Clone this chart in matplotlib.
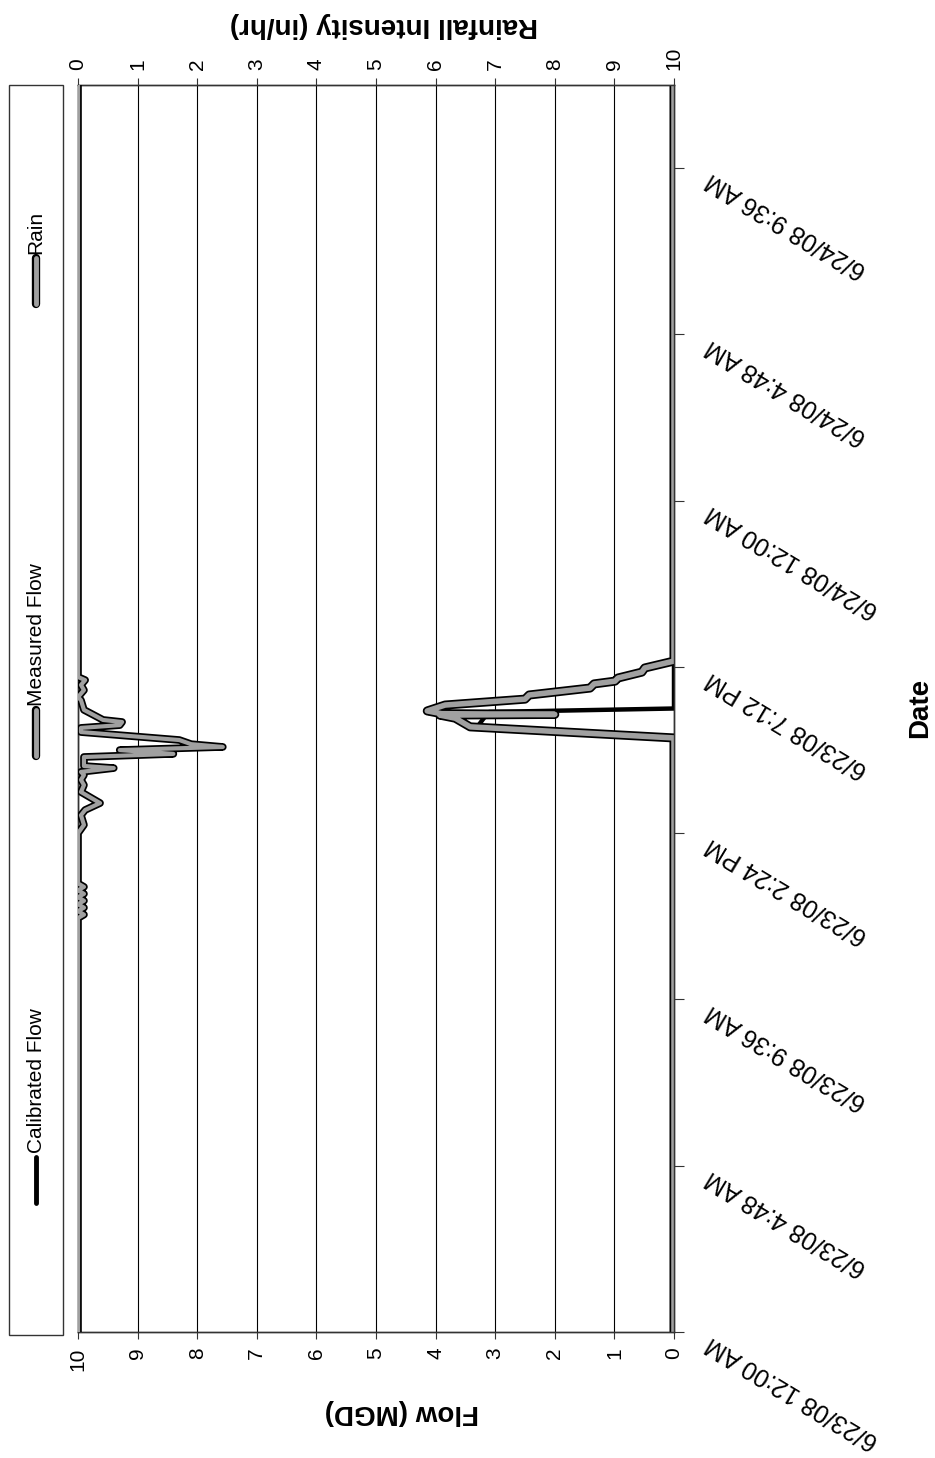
import matplotlib.pyplot as plt
import matplotlib.patheffects as pe
from matplotlib.lines import Line2D
from matplotlib.patches import Rectangle

plt.rcParams['font.family'] = ['Liberation Sans', 'DejaVu Sans']

# time in hours after 6/23/08 12:00 AM
calibrated_t = [0, 17.15, 17.47, 17.70, 17.90, 18.00, 36]
calibrated_flow = [0, 0, 3.3, 3.2, 3.1, 0, 0]

measured_t = [0, 17.15, 17.47, 17.61, 17.72, 17.81, 17.83, 17.85, 17.93, 18.10,
              18.27, 18.39, 18.59, 18.71, 18.79, 18.88, 19.05, 19.17, 19.37, 36]
measured_flow = [0, 0, 3.42, 3.56, 3.67, 3.93, 2.0, 3.9, 4.14, 3.84,
                 2.50, 2.43, 1.41, 1.34, 0.99, 0.94, 0.54, 0.49, 0, 0]

rain_t = [0, 11.95, 12.05, 12.15, 12.25, 12.35, 12.45, 12.55, 12.65, 12.75, 12.85, 12.95,
          14.40, 14.64, 14.92, 15.07, 15.27, 15.44, 15.59, 15.79, 15.94, 16.08, 16.17,
          16.28, 16.34, 16.60, 16.69, 16.80, 16.89, 16.97, 17.09, 17.32, 17.44, 17.52,
          17.61, 17.67, 17.87, 17.96, 18.24, 18.33, 18.53, 18.68, 18.82, 18.91, 36]
rain = [0, 0, 0.1, 0, 0.1, 0, 0.1, 0, 0.1, 0, 0.1, 0,
        0, 0.1, 0.05, 0.12, 0.37, 0.2, 0.05, 0.1, 0.05, 0.1, 0.05,
        0.6, 0.1, 0.1, 1.6, 0.7, 2.43, 1.9, 1.7, 0.05, 0.05, 0.7,
        0.74, 0.42, 0.2, 0.1, 0.05, 0, 0.1, 0.05, 0.12, 0, 0]

flow_ticks = [0, 1, 2, 3, 4, 5, 6, 7, 8, 9, 10]
rain_ticks = [0, 1, 2, 3, 4, 5, 6, 7, 8, 9, 10]
date_ticks = [0, 4.8, 9.6, 14.4, 19.2, 24.0, 28.8, 33.6]
date_labels = ["6/23/08 12:00 AM", "6/23/08 4:48 AM", "6/23/08 9:36 AM", "6/23/08 2:24 PM",
               "6/23/08 7:12 PM", "6/24/08 12:00 AM", "6/24/08 4:48 AM", "6/24/08 9:36 AM"]

W, H = 935, 1458
fig = plt.figure(figsize=(W / 100, H / 100), dpi=100)
ax = fig.add_axes([78 / W, 1 - 1332 / H, (674 - 78) / W, (1332 - 85) / H])

frame_c = '#333333'
for s in ax.spines.values():
    s.set_color(frame_c)
    s.set_linewidth(1)

ax.set_xlim(10, 0)
ax.set_ylim(0, 36)
ax.set_xticks(flow_ticks)
ax.set_xticklabels([str(v) for v in flow_ticks], rotation=90, fontsize=15)
ax.grid(axis='x', color='black', linewidth=0.8)
ax.grid(axis='y', visible=False)
ax.tick_params(axis='x', direction='out', length=5, pad=6, color=frame_c)

ax.yaxis.tick_right()
ax.set_yticks(date_ticks)
ax.set_yticklabels(date_labels, rotation=149, rotation_mode='anchor',
                   ha='right', va='bottom', fontsize=18)
ax.tick_params(axis='y', direction='out', length=7, pad=22, color=frame_c)

ax.plot(calibrated_flow, calibrated_t, color='black', linewidth=3.2, zorder=3)
ax.plot(measured_flow, measured_t, color='#a0a0a0', linewidth=4,
        path_effects=[pe.Stroke(linewidth=6.5, foreground='black'), pe.Normal()], zorder=4)

ax2 = ax.twiny()
ax2.set_xlim(0, 10)
ax2.set_xticks(rain_ticks)
ax2.set_xticklabels([str(v) for v in rain_ticks], rotation=90, fontsize=15)
ax2.tick_params(axis='x', direction='out', length=5, pad=6, color=frame_c)
for s in ax2.spines.values():
    s.set_color(frame_c)
    s.set_linewidth(1)
ax2.plot(rain, rain_t, color='#a0a0a0', linewidth=3.0,
         path_effects=[pe.Stroke(linewidth=5.5, foreground='black'), pe.Normal()], zorder=4)

# axis titles
fig.text(402 / W, 1 - 1412 / H, "Flow (MGD)", rotation=180, ha='center', va='center',
         fontsize=20, fontweight='bold')
fig.text(384 / W, 1 - 25 / H, "Rainfall Intensity (in/hr)", rotation=180, ha='center',
         va='center', fontsize=20, fontweight='bold')
fig.text(920 / W, 1 - 708 / H, "Date", rotation=90, ha='center', va='center',
         fontsize=20, fontweight='bold')

# legend (drawn rotated, like the rest of the chart)
fig.add_artist(Rectangle((9 / W, 1 - 1335 / H), 54 / W, 1250 / H, transform=fig.transFigure,
                         fill=False, edgecolor=frame_c, linewidth=1))
legend_items = [
    ("Calibrated Flow", 1157, 'black', False),
    ("Measured Flow", 710, '#a0a0a0', True),
    ("Rain", 258, '#a0a0a0', True),
]
for label, y_top, color, outlined in legend_items:
    ln = Line2D([36 / W, 36 / W], [1 - (y_top + 46) / H, 1 - y_top / H],
                transform=fig.transFigure, color=color, linewidth=3.5,
                solid_capstyle='round')
    if outlined:
        ln.set_path_effects([pe.Stroke(linewidth=6, foreground='black'), pe.Normal()])
    fig.add_artist(ln)
    fig.text(36 / W, 1 - (y_top - 4) / H, label, rotation=90, ha='center', va='bottom',
             fontsize=15)

fig.savefig("out.png", dpi=100)
